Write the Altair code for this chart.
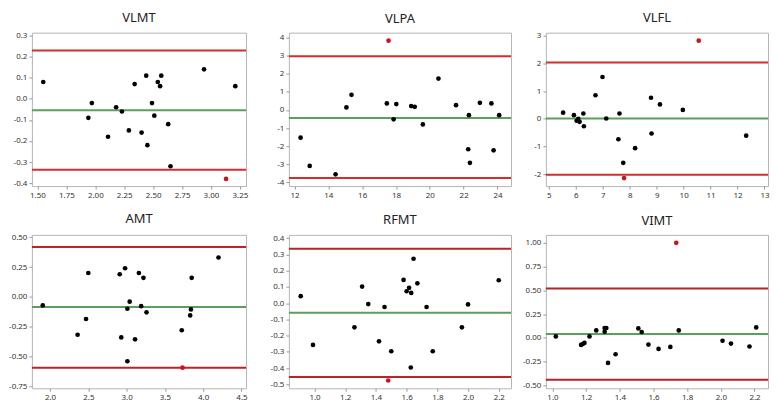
import altair as alt
import pandas as pd

# ---------------- data ----------------
titles = ["VLMT", "VLPA", "VLFL", "AMT", "RFMT", "VIMT"]

vlmt_x = [1.55, 1.94, 1.97, 2.11, 2.18, 2.23, 2.29, 2.34, 2.40, 2.44, 2.45, 2.49, 2.51, 2.54, 2.56, 2.57, 2.63, 2.65, 2.94, 3.21]
vlmt_y = [0.08, -0.09, -0.02, -0.18, -0.04, -0.06, -0.15, 0.07, -0.16, 0.11, -0.22, -0.02, -0.08, 0.08, 0.06, 0.11, -0.12, -0.32, 0.14, 0.06]
vlmt_out_x = [3.13]
vlmt_out_y = [-0.38]
vlmt_lines = [0.230, -0.054, -0.337]

vlpa_x = [12.36, 12.9, 14.43, 15.07, 15.37, 17.46, 17.86, 18.02, 18.9, 19.11, 19.59, 20.51, 21.55, 22.27, 22.31, 22.37, 22.96, 23.64, 23.77, 24.1]
vlpa_y = [-1.53, -3.09, -3.55, 0.14, 0.83, 0.36, -0.52, 0.32, 0.21, 0.17, -0.8, 1.73, 0.26, -2.17, -0.29, -2.92, 0.39, 0.36, -2.23, -0.29]
vlpa_out_x = [17.56]
vlpa_out_y = [3.82]
vlpa_lines = [2.96, -0.45, -3.75]

vlfl_x = [5.53, 5.93, 6.03, 6.09, 6.14, 6.28, 6.30, 6.73, 6.99, 7.13, 7.58, 7.62, 7.76, 8.2, 8.79, 8.81, 9.12, 9.97, 12.32]
vlfl_y = [0.22, 0.13, -0.07, 0.0, -0.11, 0.19, -0.27, 0.85, 1.51, 0.01, -0.74, 0.19, -1.59, -1.06, 0.76, -0.53, 0.52, 0.32, -0.61]
vlfl_out_x = [7.79, 10.56]
vlfl_out_y = [-2.14, 2.82]
vlfl_lines = [2.03, 0.01, -2.02]

amt_x = [1.905, 2.36, 2.47, 2.5, 2.91, 2.93, 2.98, 3.01, 3.01, 3.04, 3.11, 3.16, 3.19, 3.22, 3.26, 3.72, 3.83, 3.84, 3.85, 4.2]
amt_y = [-0.072, -0.318, -0.186, 0.2, 0.19, -0.34, 0.24, -0.1, -0.54, -0.04, -0.356, 0.2, -0.078, 0.16, -0.13, -0.28, -0.156, -0.105, 0.16, 0.33]
amt_out_x = [3.73]
amt_out_y = [-0.594]
amt_lines = [0.419, -0.086, -0.594]

rfmt_x = [0.91, 0.99, 1.26, 1.31, 1.35, 1.42, 1.456, 1.50, 1.58, 1.60, 1.616, 1.63, 1.627, 1.645, 1.67, 1.73, 1.77, 1.96, 2.0, 2.2]
rfmt_y = [0.043, -0.257, -0.149, 0.102, -0.006, -0.235, -0.024, -0.296, 0.143, 0.073, 0.094, 0.063, -0.396, 0.273, 0.122, -0.024, -0.296, -0.149, -0.008, 0.141]
rfmt_out_x = [1.48]
rfmt_out_y = [-0.476]
rfmt_lines = [0.335, -0.059, -0.455]

vimt_x = [1.02, 1.17, 1.18, 1.19, 1.22, 1.26, 1.31, 1.31, 1.32, 1.33, 1.375, 1.51, 1.53, 1.57, 1.63, 1.70, 1.75, 2.01, 2.06, 2.17, 2.21]
vimt_y = [0.016, -0.074, -0.064, -0.053, 0.016, 0.079, 0.104, 0.065, 0.104, -0.263, -0.172, 0.1, 0.062, -0.07, -0.116, -0.095, 0.079, -0.03, -0.06, -0.09, 0.11]
vimt_out_x = [1.735]
vimt_out_y = [1.0]
vimt_lines = [0.519, 0.041, -0.44]

# axis domains and tick values
x_domains = [[1.452, 3.303], [11.67, 24.8], [4.89, 13.13], [1.763, 4.56], [0.833, 2.28], [0.961, 2.28]]
y_domains = [[-0.414, 0.314], [-4.2, 4.26], [-2.43, 3.11], [-0.767, 0.52], [-0.524, 0.42], [-0.53, 1.084]]
x_ticks = [
    [1.5, 1.75, 2.0, 2.25, 2.5, 2.75, 3.0, 3.25],
    [12, 14, 16, 18, 20, 22, 24],
    [5, 6, 7, 8, 9, 10, 11, 12, 13],
    [2.0, 2.5, 3.0, 3.5, 4.0, 4.5],
    [1.0, 1.2, 1.4, 1.6, 1.8, 2.0, 2.2],
    [1.0, 1.2, 1.4, 1.6, 1.8, 2.0, 2.2],
]
y_ticks = [
    [-0.4, -0.3, -0.2, -0.1, 0.0, 0.1, 0.2, 0.3],
    [-4, -3, -2, -1, 0, 1, 2, 3, 4],
    [-2, -1, 0, 1, 2, 3],
    [-0.75, -0.5, -0.25, 0.0, 0.25, 0.5],
    [-0.5, -0.4, -0.3, -0.2, -0.1, 0.0, 0.1, 0.2, 0.3, 0.4],
    [-0.5, -0.25, 0.0, 0.25, 0.5, 0.75, 1.0],
]
x_formats = [".2f", "d", "d", ".1f", ".1f", ".1f"]
y_formats = [".1f", "d", "d", ".2f", ".1f", ".2f"]

panel_x = [vlmt_x, vlpa_x, vlfl_x, amt_x, rfmt_x, vimt_x]
panel_y = [vlmt_y, vlpa_y, vlfl_y, amt_y, rfmt_y, vimt_y]
panel_ox = [vlmt_out_x, vlpa_out_x, vlfl_out_x, amt_out_x, rfmt_out_x, vimt_out_x]
panel_oy = [vlmt_out_y, vlpa_out_y, vlfl_out_y, amt_out_y, rfmt_out_y, vimt_out_y]
panel_lines = [vlmt_lines, vlpa_lines, vlfl_lines, amt_lines, rfmt_lines, vimt_lines]
widths = [215, 223, 223, 215, 223, 223]

RED_LINES = ["#d42d2d", "#d42d2d", "#d42d2d", "#bc2228", "#bc2228", "#b52228"]
RED_PT = "#c8141e"
GREEN = "#5c9e5c"


def lbl(fmt):
    return "replace(format(datum.value, '%s'), '\u2212', '-')" % fmt


def axis(vals, fmt):
    return alt.Axis(values=vals, labelExpr=lbl(fmt), title=None,
                    labelOverlap=False, labelFlush=False, tickCount=len(vals))


def panel(i):
    xs = alt.Scale(domain=x_domains[i], nice=False, zero=False)
    ys = alt.Scale(domain=y_domains[i], nice=False, zero=False)
    xa = axis(x_ticks[i], x_formats[i])
    ya = axis(y_ticks[i], y_formats[i])

    pts = pd.DataFrame({"x": panel_x[i], "y": panel_y[i]})
    outl = pd.DataFrame({"x": panel_ox[i], "y": panel_oy[i]})
    up, mean, lo = panel_lines[i]
    limits = pd.DataFrame({"v": [up, lo]})
    meandf = pd.DataFrame({"v": [mean]})

    red_rules = alt.Chart(limits).mark_rule(color=RED_LINES[i], strokeWidth=2).encode(
        y=alt.Y("v:Q", scale=ys, axis=ya)
    )
    green_rule = alt.Chart(meandf).mark_rule(color=GREEN, strokeWidth=2).encode(
        y=alt.Y("v:Q", scale=ys, axis=ya)
    )
    dots = alt.Chart(pts).mark_circle(color="black", size=22, opacity=1).encode(
        x=alt.X("x:Q", scale=xs, axis=xa),
        y=alt.Y("y:Q", scale=ys, axis=ya),
    )
    red_dots = alt.Chart(outl).mark_circle(color=RED_PT, size=22, opacity=1).encode(
        x=alt.X("x:Q", scale=xs, axis=xa),
        y=alt.Y("y:Q", scale=ys, axis=ya),
    )
    return alt.layer(red_rules, green_rule, dots, red_dots).properties(
        width=widths[i],
        height=154,
        title=alt.TitleParams(titles[i], fontSize=13, fontWeight="normal", color="#222", offset=7),
    )


chart = (
    alt.concat(*[panel(i) for i in range(6)], columns=3,
               spacing={"row": 49, "column": 35}, bounds="flush", align="all")
    .properties(padding={"left": 0, "top": 2, "right": 0, "bottom": 0}, background="white")
    .configure(font="Noto Sans")
    .configure_view(stroke="#b4b4b4", strokeWidth=1)
    .configure_axis(
        domain=False,
        grid=False,
        ticks=True,
        tickColor="#999999",
        tickSize=3,
        labelFontSize=8,
        labelColor="#333333",
        labelPadding=2,
        labelOverlap=False,
        labelFlush=False,
    )
    .configure_title(anchor="middle", font="Noto Sans")
)

chart.save("out.html", embed_options={"renderer": "svg", "actions": False})
